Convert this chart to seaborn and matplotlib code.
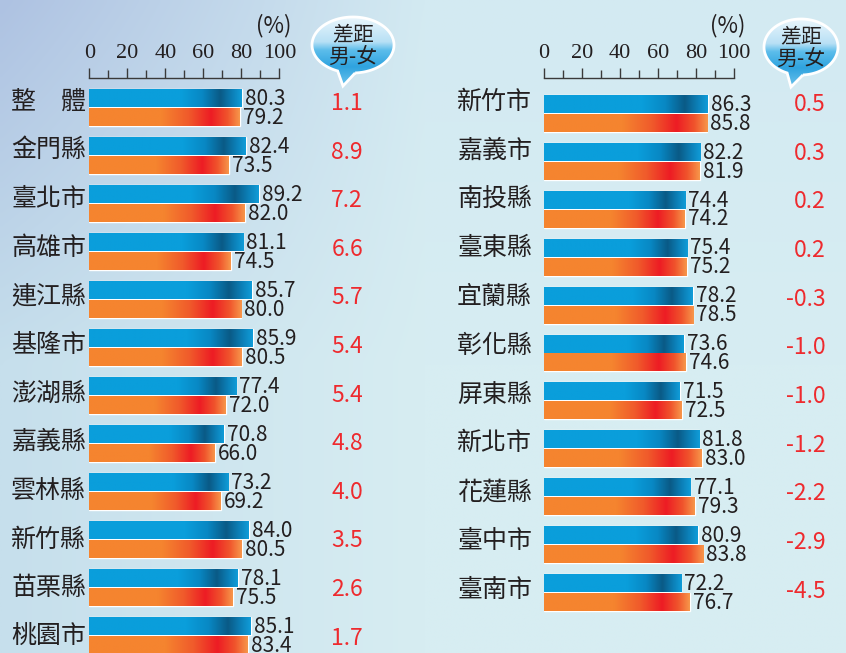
import numpy as np
import pandas as pd
import matplotlib
matplotlib.use('Agg')
import matplotlib.pyplot as plt
from matplotlib.colors import LinearSegmentedColormap, to_rgb
from matplotlib.path import Path
from matplotlib.patches import PathPatch
from matplotlib.ticker import FixedLocator
import seaborn as sns

# ---- data ----
left_areas = ['整　體', '金門縣', '臺北市', '高雄市', '連江縣', '基隆市',
              '澎湖縣', '嘉義縣', '雲林縣', '新竹縣', '苗栗縣', '桃園市']
left_male = [80.3, 82.4, 89.2, 81.1, 85.7, 85.9, 77.4, 70.8, 73.2, 84.0, 78.1, 85.1]
left_female = [79.2, 73.5, 82.0, 74.5, 80.0, 80.5, 72.0, 66.0, 69.2, 80.5, 75.5, 83.4]
left_gap = [1.1, 8.9, 7.2, 6.6, 5.7, 5.4, 5.4, 4.8, 4.0, 3.5, 2.6, 1.7]

right_areas = ['新竹市', '嘉義市', '南投縣', '臺東縣', '宜蘭縣', '彰化縣',
               '屏東縣', '新北市', '花蓮縣', '臺中市', '臺南市']
right_male = [86.3, 82.2, 74.4, 75.4, 78.2, 73.6, 71.5, 81.8, 77.1, 80.9, 72.2]
right_female = [85.8, 81.9, 74.2, 75.2, 78.5, 74.6, 72.5, 83.0, 79.3, 83.8, 76.7]
right_gap = [0.5, 0.3, 0.2, 0.2, -0.3, -1.0, -1.0, -1.2, -2.2, -2.9, -4.5]

sex_order = ['男', '女']
ticks = [0, 20, 40, 60, 80, 100]

W, H = 846, 653
CJK = ['Noto Sans CJK TC', 'DejaVu Sans']
DARK = '#231F20'
RED = '#EE2A2E'
BLUE = '#0A9EDB'
ORANGE = '#F5842F'

sns.set_theme(style='white')
plt.rcParams['font.family'] = CJK

blue_cmap = LinearSegmentedColormap.from_list('b', [
    (0, BLUE), (0.6, BLUE), (0.74, '#0888C4'), (0.86, '#0A5A86'),
    (0.94, '#0C80B8'), (1, '#109CD8')])
orange_cmap = LinearSegmentedColormap.from_list('o', [
    (0, ORANGE), (0.48, ORANGE), (0.66, '#F05A2B'), (0.81, '#ED1C24'),
    (0.92, '#F0542C'), (1, '#F7964A')])
bubble_cmap = LinearSegmentedColormap.from_list('bb', [
    (0, '#EAF6FC'), (0.36, '#B8E0F5'), (0.48, '#5CBDEB'),
    (0.72, '#2FA3DF'), (1, '#6CC3EC')])

fig = plt.figure(figsize=(W / 100, H / 100), dpi=100)

# background
bg = fig.add_axes([0, 0, 1, 1], zorder=0)
bg.set_xlim(0, W)
bg.set_ylim(H, 0)
bg.axis('off')
tl, tr = np.array(to_rgb('#AEC2E2')), np.array(to_rgb('#D3EAF2'))
bl, br = np.array(to_rgb('#C6DFEC')), np.array(to_rgb('#D7EDF2'))
u = np.linspace(0, 1, 200)[None, :, None]
v = np.linspace(0, 1, 160)[:, None, None]
u2 = np.clip(u * 2.0, 0, 1)
v2 = np.clip(v * 1.8, 0, 1)
grad = (1 - v2) * ((1 - u2) * tl + u2 * tr) + v2 * ((1 - u2) * bl + u2 * br)
bg.imshow(grad, extent=(0, W, H, 0), aspect='auto', interpolation='bilinear')


def bubble(cx, cy, a, b, tip):
    th = np.deg2rad(np.linspace(87, 87 - 335, 120))
    pts = np.column_stack([cx + a * np.cos(th), cy + b * np.sin(th)])
    pts = np.vstack([pts, tip, pts[:1]])
    patch = PathPatch(Path(pts), facecolor='none', edgecolor='white', lw=2, zorder=3)
    bg.add_patch(patch)
    im = bg.imshow(np.linspace(0, 1, 256)[:, None], cmap=bubble_cmap, aspect='auto',
                   extent=(cx - a, cx + a, tip[1], cy - b), zorder=2,
                   interpolation='bilinear')
    im.set_clip_path(patch)
    bg.text(cx, cy - 11, '差距', ha='center', va='center', fontsize=15, color=DARK, zorder=4)
    bg.text(cx, cy + 12, '男-女', ha='center', va='center', fontsize=15, color=DARK, zorder=4)


bubble(353, 45, 41, 28, (343, 86))
bubble(801, 47, 37, 28, (791, 87))


def panel(areas, male, female, gaps, x0_px, c0_px, step, lab_px, lab_off, gap_px, gap_off):
    n = len(areas)
    scale = 1.9
    ax = fig.add_axes([x0_px / W, 0, 100 * scale / W, (H - 78) / H], zorder=1)
    ax.set_facecolor('none')
    df = pd.DataFrame({'區域': areas * 2,
                       '性別': ['男'] * n + ['女'] * n,
                       '比率': male + female})
    sns.barplot(data=df, y='區域', x='比率', hue='性別', order=areas,
                hue_order=sex_order, palette={'男': BLUE, '女': ORANGE},
                orient='h', width=0.79, gap=0.05, saturation=1,
                legend=False, ax=ax)

    for p in list(ax.patches):
        fc = p.get_facecolor()[:3]
        cmap = blue_cmap if np.allclose(fc, to_rgb(BLUE), atol=0.02) else orange_cmap
        x0, y0, w, h = p.get_x(), p.get_y(), p.get_width(), p.get_height()
        im = ax.imshow(np.linspace(0, 1, 256)[None, :], cmap=cmap, aspect='auto',
                       extent=(x0, x0 + w, y0 + h, y0), interpolation='bilinear',
                       zorder=p.get_zorder() + 0.1)
        im.set_clip_path(p)
        ax.annotate(f'{w:.1f}', xy=(x0 + w, y0 + h / 2), xytext=(2.2, -0.5),
                    textcoords='offset points', ha='left', va='center',
                    fontsize=15, color=DARK, annotation_clip=False)

    def py(p):
        return (p - c0_px) / step

    def px(p):
        return (p - x0_px) / scale

    for i, (name, g) in enumerate(zip(areas, gaps)):
        ax.text(px(lab_px), i + (lab_off[0] + lab_off[1] * i) / step, name,
                ha='right', va='center', fontsize=18, fontweight='medium', color=DARK)
        ax.text(px(gap_px), i + (gap_off[0] + gap_off[1] * i) / step, f'{g:.1f}',
                ha='right', va='center', fontsize=16.5, color=RED)

    ax.set_xlim(0, 100)
    ax.set_ylim(py(H), py(78))
    ax.set_ylabel('')
    ax.set_xlabel('')
    ax.set_yticks([])
    for s in ['left', 'right', 'bottom']:
        ax.spines[s].set_visible(False)
    ax.spines['top'].set_color('#3A3A3A')
    ax.spines['top'].set_linewidth(1.0)
    ax.xaxis.set_ticks_position('top')
    ax.set_xticks(ticks)
    ax.set_xticklabels([str(t) for t in ticks], fontfamily='Liberation Serif', fontsize=16)
    ax.xaxis.set_minor_locator(FixedLocator(range(10, 100, 20)))
    ax.tick_params(axis='x', which='major', direction='out', length=7, width=1,
                   color='#3A3A3A', pad=3.5, labelcolor=DARK)
    ax.tick_params(axis='x', which='minor', direction='out', length=5.5, width=1,
                   color='#3A3A3A', top=True, bottom=False)
    ax.text(px(x0_px + 184), py(26), '(%)', ha='center', va='center',
            fontsize=16, color=DARK)
    return ax


panel(left_areas, left_male, left_female, left_gap, 89.3, 107.5, 48.0,
      86, (-6, 0.68), 363, (-4, 0.6))
panel(right_areas, right_male, right_female, right_gap, 544, 113.5, 47.9,
      532, (-12, 0.95), 826, (-9, 0.75))

fig.savefig('out.png', dpi=100)
